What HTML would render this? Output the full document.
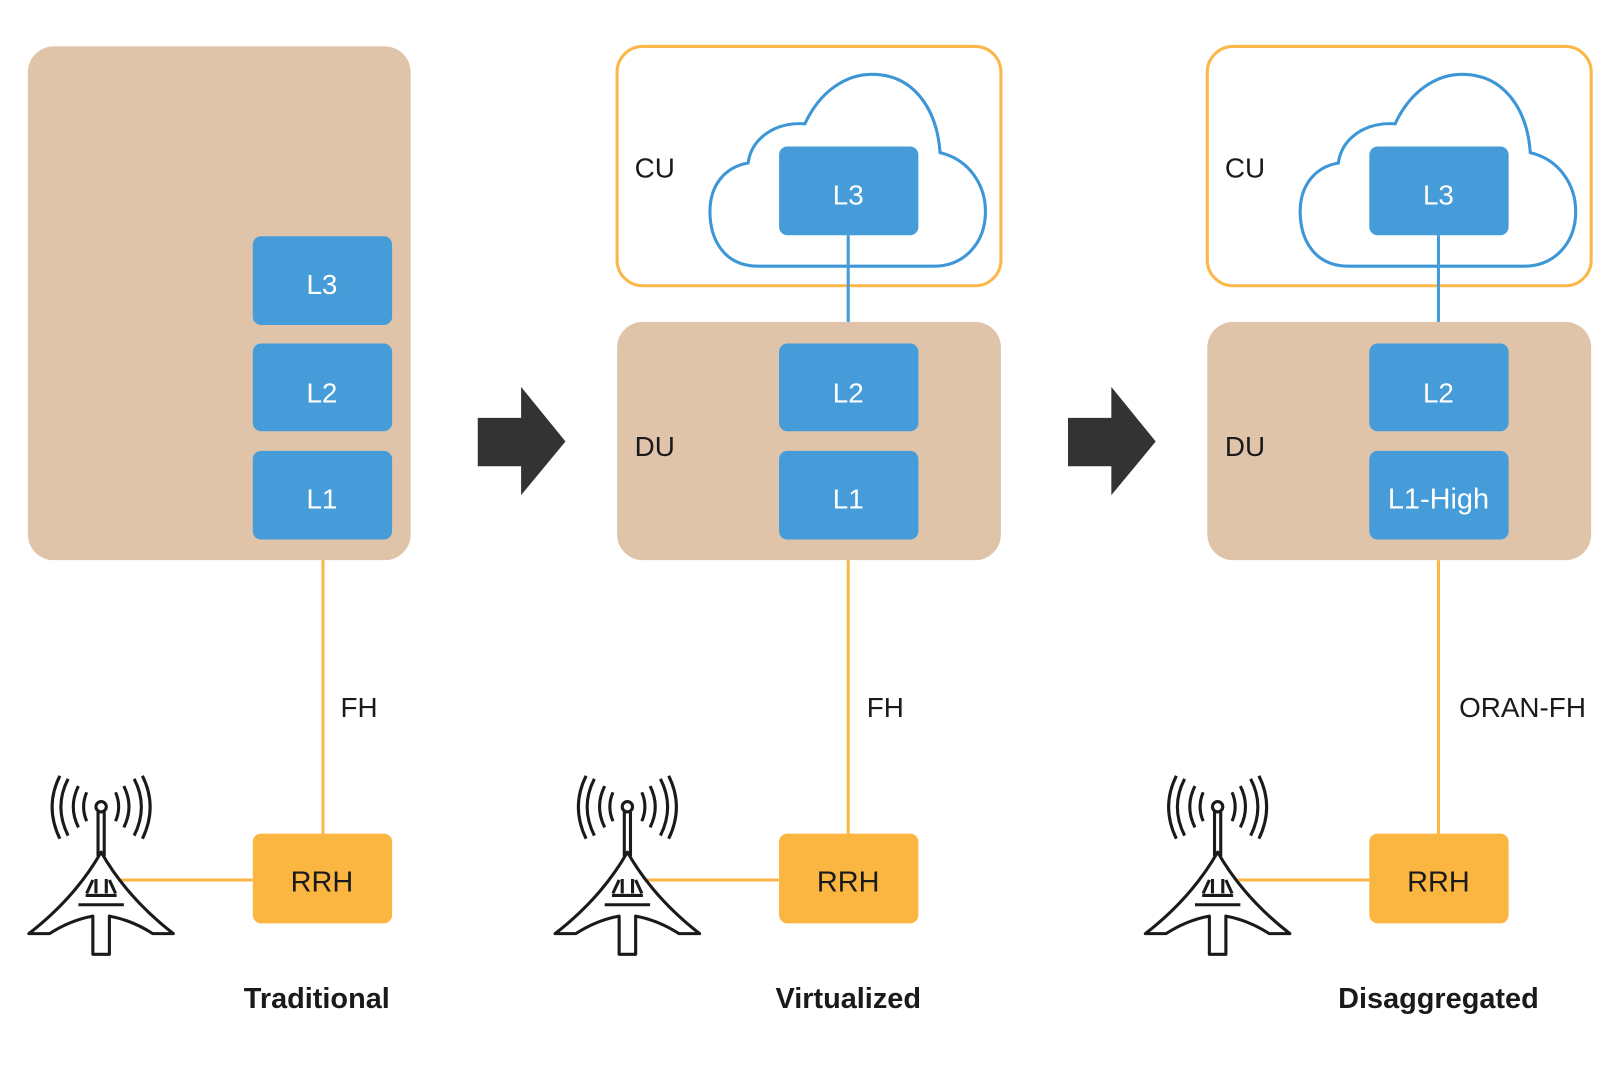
<!DOCTYPE html>
<html><head><style>html,body{margin:0;padding:0;background:#fff;}svg{display:block}</style></head>
<body>
<svg width="1618" height="1076" viewBox="0 0 1568 1043" preserveAspectRatio="none" xmlns="http://www.w3.org/2000/svg" font-family="'Liberation Sans', sans-serif">
<defs>
<g id="tower" fill="none" stroke="#1a1a1a" stroke-width="3" stroke-linejoin="round">
  <circle cx="0" cy="782" r="5"/>
  <path d="M-3 787 V830 M3 787 V830"/>
  <path d="M-22 762 Q-32 782 -22 802 M-14 768 Q-20 782 -14 796"/>
  <path d="M22 762 Q32 782 22 802 M14 768 Q20 782 14 796"/>
  <path d="M-32 755 Q-46 782 -32 810 M-40 752 Q-55 782 -40 813"/>
  <path d="M32 755 Q46 782 32 810 M40 752 Q55 782 40 813"/>
  <path d="M0 826 Q-25 870 -70 905 L-50 905 Q-30 892 -8 888 V925 H8 V888 Q30 892 50 905 L70 905 Q25 870 0 826 Z"/>
  <path d="M-15 868 H15 M-22 877 H22"/>
  <path d="M-5 852 V866 M5 852 V866 M-8 853 L-14 866 M8 853 L14 866"/>
</g>
<path id="cloud" d="M735 258 C700 258 688 230 688 205 C688 180 702 162 725 158 C728 135 750 118 780 120 C795 88 820 72 845 72 C885 72 908 105 911 148 C940 155 955 180 955 205 C955 235 935 258 905 258 Z" fill="#fff" stroke="#3d97d6" stroke-width="3"/>
</defs>
<rect width="1568" height="1043" fill="#fff"/>

<!-- Panel 1 -->
<rect x="27" y="45" width="371" height="498" rx="25" fill="#dfc4aa"/>
<g fill="#459cd8">
<rect x="245" y="229" width="135" height="86" rx="8"/>
<rect x="245" y="333" width="135" height="85" rx="8"/>
<rect x="245" y="437" width="135" height="86" rx="8"/>
</g>
<g fill="#fff" font-size="27" text-anchor="middle">
<text x="312" y="285">L3</text><text x="312" y="390">L2</text><text x="312" y="493">L1</text>
</g>
<line x1="313" y1="543" x2="313" y2="808" stroke="#fbb74a" stroke-width="3"/>
<line x1="115" y1="853" x2="245" y2="853" stroke="#fbb74a" stroke-width="3"/>
<text x="330" y="695" font-size="27" fill="#1a1a1a">FH</text>
<rect x="245" y="808" width="135" height="87" rx="8" fill="#fbb541"/>
<text x="312" y="864" font-size="28" fill="#1a1a1a" text-anchor="middle">RRH</text>
<use href="#tower" x="98" y="0"/>
<text x="307" y="977" font-size="28" font-weight="bold" fill="#1a1a1a" text-anchor="middle">Traditional</text>

<!-- arrows -->
<path d="M463 405 H505 V375 L548 428 L505 480 V452 H463 Z" fill="#333"/>
<path d="M1035 405 H1077 V375 L1120 428 L1077 480 V452 H1035 Z" fill="#333"/>

<!-- Panel 2 -->
<g id="p2">
<rect x="598" y="45" width="372" height="232" rx="25" fill="#fff" stroke="#fbb74a" stroke-width="3"/>
<use href="#cloud"/>
<line x1="822" y1="228" x2="822" y2="333" stroke="#459cd8" stroke-width="3"/>
<rect x="598" y="312" width="372" height="231" rx="25" fill="#dfc4aa"/>
<rect x="755" y="142" width="135" height="86" rx="8" fill="#459cd8"/>
<rect x="755" y="333" width="135" height="85" rx="8" fill="#459cd8"/>
<rect x="755" y="437" width="135" height="86" rx="8" fill="#459cd8"/>
<text x="615" y="172" font-size="27" fill="#1a1a1a">CU</text>
<text x="615" y="442" font-size="27" fill="#1a1a1a">DU</text>
<text x="822" y="198" font-size="27" fill="#fff" text-anchor="middle">L3</text>
<text x="822" y="390" font-size="27" fill="#fff" text-anchor="middle">L2</text>
<line x1="822" y1="543" x2="822" y2="808" stroke="#fbb74a" stroke-width="3"/>
<line x1="625" y1="853" x2="755" y2="853" stroke="#fbb74a" stroke-width="3"/>
<rect x="755" y="808" width="135" height="87" rx="8" fill="#fbb541"/>
<text x="822" y="864" font-size="28" fill="#1a1a1a" text-anchor="middle">RRH</text>
<use href="#tower" x="608" y="0"/>
</g>
<text x="822" y="493" font-size="27" fill="#fff" text-anchor="middle">L1</text>
<text x="840" y="695" font-size="27" fill="#1a1a1a">FH</text>
<text x="822" y="977" font-size="28" font-weight="bold" fill="#1a1a1a" text-anchor="middle">Virtualized</text>

<!-- Panel 3 -->
<use href="#p2" x="572" y="0"/>
<text x="1394" y="493" font-size="28" fill="#fff" text-anchor="middle">L1-High</text>
<text x="1414" y="695" font-size="27" fill="#1a1a1a">ORAN-FH</text>
<text x="1394" y="977" font-size="28" font-weight="bold" fill="#1a1a1a" text-anchor="middle">Disaggregated</text>
</svg>
</body></html>
